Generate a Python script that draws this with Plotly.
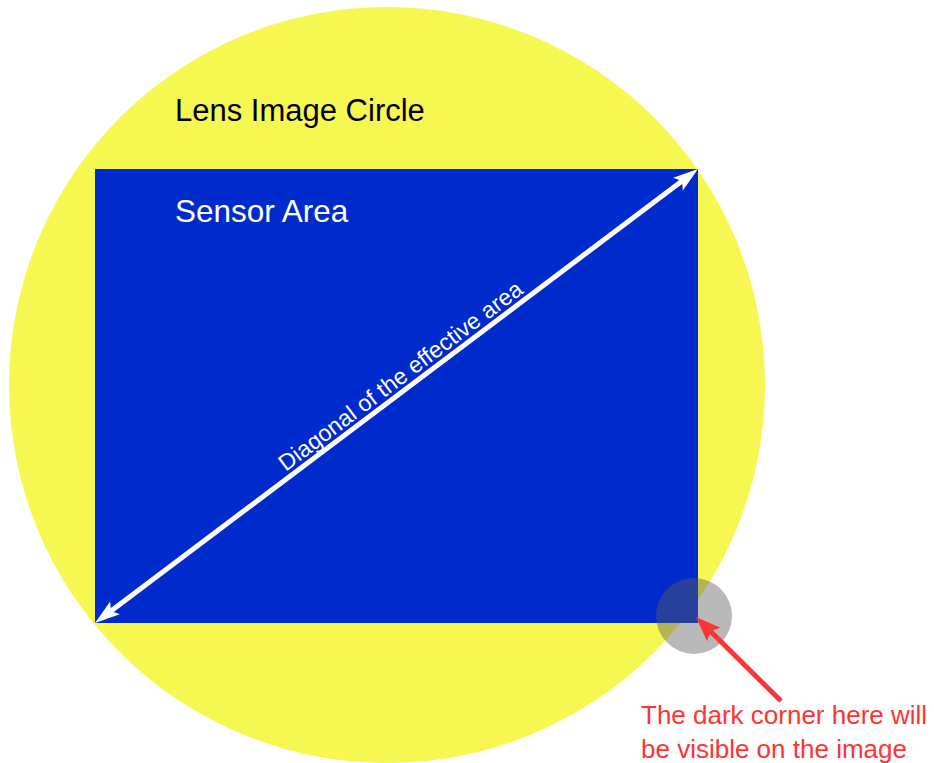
import math
import plotly.graph_objects as go

# Diagram geometry (pixel-space units, y grows downward)
lens_circle = [387, 385, 378]          # cx, cy, r
sensor_rect = [95, 169, 698, 623]      # x0, y0, x1, y1
corner_circle = [694, 616, 38]         # cx, cy, r
red_arrow = [696, 617, 781, 701]       # tip x, tip y, tail x, tail y

labels = ["Lens Image Circle", "Sensor Area", "Diagonal of the effective area",
          "The dark corner here will<br>be visible on the image"]

W, H = 934, 763
FONT = "Liberation Sans, Arial, sans-serif"


def head_path(tip, tail, length, half_w, notch=0.8):
    ux, uy = tip[0] - tail[0], tip[1] - tail[1]
    d = math.hypot(ux, uy)
    ux, uy = ux / d, uy / d
    nx, ny = -uy, ux
    bx, by = tip[0] - ux * length, tip[1] - uy * length
    mx, my = tip[0] - ux * length * notch, tip[1] - uy * length * notch
    pts = [tip, (bx + nx * half_w, by + ny * half_w), (mx, my),
           (bx - nx * half_w, by - ny * half_w)]
    return "M" + " L".join(f"{p[0]:.2f},{p[1]:.2f}" for p in pts) + " Z", (mx, my)


def add_arrow(fig, a, b, color, width, length, half_w, both=False):
    pb, endb = head_path(b, a, length, half_w)
    enda = a
    if both:
        pa, enda = head_path(a, b, length, half_w)
        fig.add_shape(type="path", path=pa, fillcolor=color, line=dict(width=0), layer="above")
    fig.add_shape(type="line", x0=enda[0], y0=enda[1], x1=endb[0], y1=endb[1],
                  line=dict(color=color, width=width), layer="above")
    fig.add_shape(type="path", path=pb, fillcolor=color, line=dict(width=0), layer="above")


fig = go.Figure()
fig.add_trace(go.Scatter(x=[0, W], y=[0, H], mode="markers",
                         marker=dict(opacity=0), hoverinfo="skip", showlegend=False))

cx, cy, r = lens_circle
fig.add_shape(type="circle", x0=cx - r, y0=cy - r, x1=cx + r, y1=cy + r,
              fillcolor="#f7f752", line=dict(width=0), layer="below")
x0, y0, x1, y1 = sensor_rect
fig.add_shape(type="rect", x0=x0, y0=y0, x1=x1, y1=y1,
              fillcolor="#002bcc", line=dict(width=0), layer="below")

# double-headed diagonal arrow
add_arrow(fig, (x0, y1), (x1, y0), "white", 5, 25, 8, both=True)

gx, gy, gr = corner_circle
fig.add_shape(type="circle", x0=gx - gr, y0=gy - gr, x1=gx + gr, y1=gy + gr,
              fillcolor="rgba(92,92,92,0.43)", line=dict(width=0), layer="above")

# red pointer arrow
tx, ty, sx, sy = red_arrow
add_arrow(fig, (sx, sy), (tx, ty), "#ff3333", 5, 25, 9.5)

fig.add_annotation(x=173, y=110, xref="x", yref="y", text=labels[0], showarrow=False,
                   xanchor="left", yanchor="middle", font=dict(family=FONT, size=31, color="black"))
fig.add_annotation(x=173, y=211, xref="x", yref="y", text=labels[1], showarrow=False,
                   xanchor="left", yanchor="middle", font=dict(family=FONT, size=31.5, color="white"))
fig.add_annotation(x=400, y=376, xref="x", yref="y", text=labels[2], showarrow=False,
                   textangle=-37, xanchor="center", yanchor="middle",
                   font=dict(family=FONT, size=23, color="white"))
fig.add_annotation(x=639, y=732, xref="x", yref="y", text=labels[3], showarrow=False,
                   xanchor="left", yanchor="middle", align="left",
                   font=dict(family=FONT, size=26, color="#ff3333"))

fig.update_xaxes(range=[0, W], visible=False, fixedrange=True)
fig.update_yaxes(range=[H, 0], visible=False, fixedrange=True)
fig.update_layout(width=W, height=H, margin=dict(l=0, r=0, t=0, b=0),
                  plot_bgcolor="white", paper_bgcolor="white", showlegend=False)

fig.write_html("out.html", config={"displayModeBar": False},
               post_script="document.body.style.margin='0';document.body.style.overflow='hidden';")
